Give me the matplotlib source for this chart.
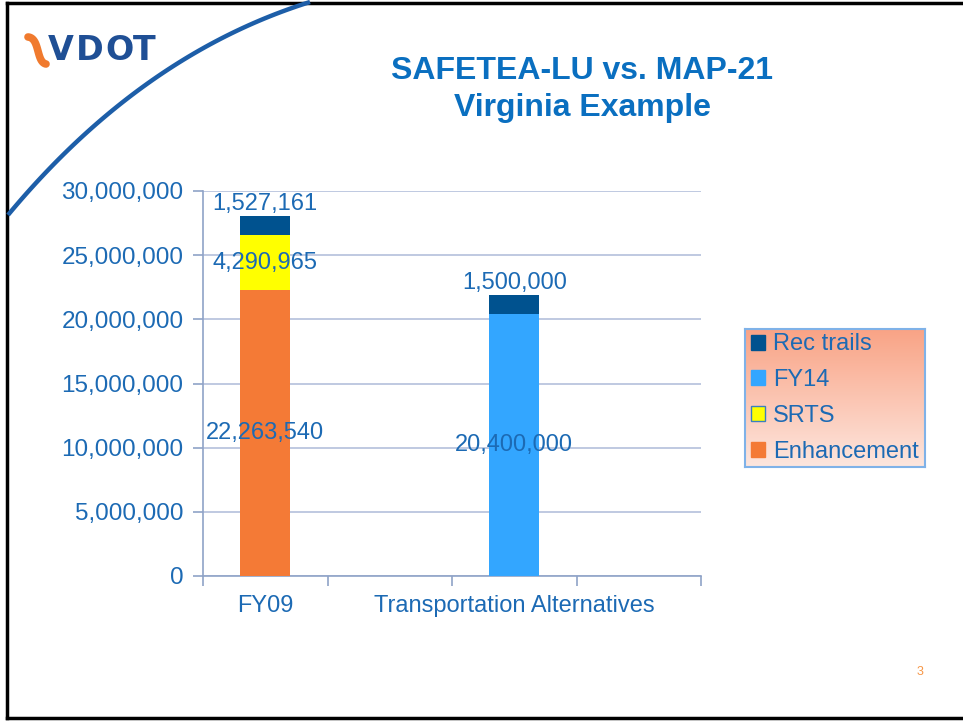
import matplotlib
matplotlib.use('Agg')
import matplotlib.pyplot as plt
import matplotlib.patches as mpatches
from matplotlib.lines import Line2D
import numpy as np

# ── Data ────────────────────────────────────────────────────────────────
categories = ['FY09', '', 'Transportation Alternatives', '']
enhancement = [22263540, 0, 0, 0]
srts = [4290965, 0, 0, 0]
fy14 = [0, 0, 20400000, 0]
rec_trails = [1527161, 0, 1500000, 0]
yticks = [0, 5000000, 10000000, 15000000, 20000000, 25000000, 30000000]

# ── Theme ───────────────────────────────────────────────────────────────
ORANGE = '#F47A36'
YELLOW = '#FFFF00'
LBLUE = '#33A6FF'
DBLUE = '#00528F'
TEXT = '#1C6AB4'
TITLE = '#0A6FC0'
AXIS = '#8FA3C7'
GRID = '#AEBBD8'

plt.rcParams['font.family'] = ['Liberation Sans', 'DejaVu Sans']

W, H = 963, 721
fig = plt.figure(figsize=(W / 100, H / 100), dpi=100)
fig.patch.set_facecolor('white')


def fx(px):
    return px / W


def fy(py):
    return 1 - py / H


ax = fig.add_axes([fx(203), fy(576), fx(701) - fx(203), fy(191) - fy(576)])
ax.set_zorder(2)
ax.patch.set_alpha(0)

x = np.arange(len(categories))
width = 0.4
b1 = np.array(enhancement)
b2 = b1 + np.array(srts)
b3 = b2 + np.array(fy14)

ax.bar(x, enhancement, width, color=ORANGE, zorder=3)
ax.bar(x, srts, width, bottom=b1, color=YELLOW, zorder=3)
ax.bar(x, fy14, width, bottom=b2, color=LBLUE, zorder=3)
ax.bar(x, rec_trails, width, bottom=b3, color=DBLUE, zorder=3)

ax.set_xlim(-0.5, len(categories) - 0.5)
ax.set_ylim(0, 30000000)
ax.set_yticks(yticks)
ax.set_yticklabels([f'{v:,}' for v in yticks])
ax.set_xticks(x)
ax.set_xticklabels(categories)
ax.set_xticks(np.arange(-0.5, len(categories)), minor=True)
ax.tick_params(axis='x', which='major', length=0, pad=14, labelsize=17, labelcolor=TEXT)
ax.tick_params(axis='x', which='minor', length=7, color=AXIS, width=1.2)
ax.tick_params(axis='y', length=7, color=AXIS, width=1.2, pad=7, labelsize=17.5, labelcolor=TEXT)
ax.grid(axis='y', color=GRID, linewidth=1.1, zorder=0)
for s in ['top', 'right']:
    ax.spines[s].set_visible(False)
for s in ['left', 'bottom']:
    ax.spines[s].set_color(AXIS)
    ax.spines[s].set_linewidth(1.2)

# data labels
lab_kw = dict(ha='center', fontsize=17, color=TEXT, zorder=5)
for i in range(len(categories)):
    if enhancement[i]:
        ax.text(x[i], enhancement[i] / 2, f'{enhancement[i]:,}', va='center', **lab_kw)
    if srts[i]:
        ax.text(x[i], b1[i] + srts[i] / 2, f'{srts[i]:,}', va='center', **lab_kw)
    if fy14[i]:
        ax.text(x[i], b2[i] + fy14[i] / 2, f'{fy14[i]:,}', va='center', **lab_kw)
    if rec_trails[i]:
        ax.text(x[i], b3[i] + rec_trails[i] + 50000, f'{rec_trails[i]:,}',
                va='bottom', **lab_kw)

# ── Legend with gradient background ──────────────────────────────────────
handles = [
    mpatches.Patch(facecolor=DBLUE, edgecolor=DBLUE, label='Rec trails'),
    mpatches.Patch(facecolor=LBLUE, edgecolor=LBLUE, label='FY14'),
    mpatches.Patch(facecolor=YELLOW, edgecolor='#3A7FC0', label='SRTS'),
    mpatches.Patch(facecolor=ORANGE, edgecolor=ORANGE, label='Enhancement'),
]
leg_x0, leg_y0, leg_x1, leg_y1 = 745, 329, 925, 467
gax = fig.add_axes([fx(leg_x0), fy(leg_y1), fx(leg_x1) - fx(leg_x0), fy(leg_y0) - fy(leg_y1)])
gax.set_zorder(1)
top_c = np.array([0xF9, 0xA3, 0x85]) / 255
bot_c = np.array([0xFD, 0xE6, 0xDE]) / 255
t = np.linspace(0, 1, 100)[:, None]
grad = (top_c[None, :] * (1 - t) + bot_c[None, :] * t)[:, None, :]
gax.imshow(grad, aspect='auto', extent=[0, 1, 0, 1])
gax.set_xticks([])
gax.set_yticks([])
for s in gax.spines.values():
    s.set_color('#7FB2E8')
    s.set_linewidth(1.5)

leg = fig.legend(handles=handles, loc='center', frameon=False,
                 bbox_to_anchor=((fx(leg_x0) + fx(leg_x1)) / 2, (fy(leg_y0) + fy(leg_y1)) / 2),
                 fontsize=17, handlelength=0.6, handleheight=0.6, handletextpad=0.35,
                 labelspacing=0.58, borderaxespad=0)
for txt in leg.get_texts():
    txt.set_color(TEXT)

# ── Title ───────────────────────────────────────────────────────────────
fig.text(fx(582), fy(71), 'SAFETEA-LU vs. MAP-21', ha='center', va='center',
         fontsize=23, fontweight='bold', color=TITLE)
fig.text(fx(582), fy(108), 'Virginia Example', ha='center', va='center',
         fontsize=23, fontweight='bold', color=TITLE)

# ── Slide decorations ───────────────────────────────────────────────────
# outer frame
fig.add_artist(Line2D([fx(7), fx(7)], [fy(3), fy(718)], color='black', lw=2.5))
fig.add_artist(Line2D([fx(7), fx(963)], [fy(3), fy(3)], color='black', lw=2.5))
fig.add_artist(Line2D([fx(7), fx(963)], [fy(718), fy(718)], color='black', lw=2.5))

# swoosh arc
p0, p1, p2 = np.array([8, 215]), np.array([141, 55]), np.array([310, 2])
s = np.linspace(0, 1, 60)[:, None]
curve = (1 - s) ** 2 * p0 + 2 * (1 - s) * s * p1 + s ** 2 * p2
fig.add_artist(Line2D(fx(curve[:, 0]), fy(curve[:, 1]), color='#1D5EA8', lw=3.2,
                      solid_capstyle='butt'))

# logo
lp0, lp1, lp2, lp3 = (np.array(p) for p in ([28, 37], [40, 38], [36, 62], [46, 64]))
curve = ((1 - s) ** 3 * lp0 + 3 * (1 - s) ** 2 * s * lp1
         + 3 * (1 - s) * s ** 2 * lp2 + s ** 3 * lp3)
fig.add_artist(Line2D(fx(curve[:, 0]), fy(curve[:, 1]), color='#F07A2E', lw=5.5,
                      solid_capstyle='round'))
for ch, cx in zip('VDOT', [61, 90, 119, 144]):
    fig.text(fx(cx), fy(51), ch, ha='center', va='center', fontsize=24,
             fontweight='bold', color='#1F4F95', family='DejaVu Sans')

fig.text(fx(920), fy(672), '3', ha='center', va='center', fontsize=9, color='#F79646')

fig.savefig('out.png', dpi=100)
